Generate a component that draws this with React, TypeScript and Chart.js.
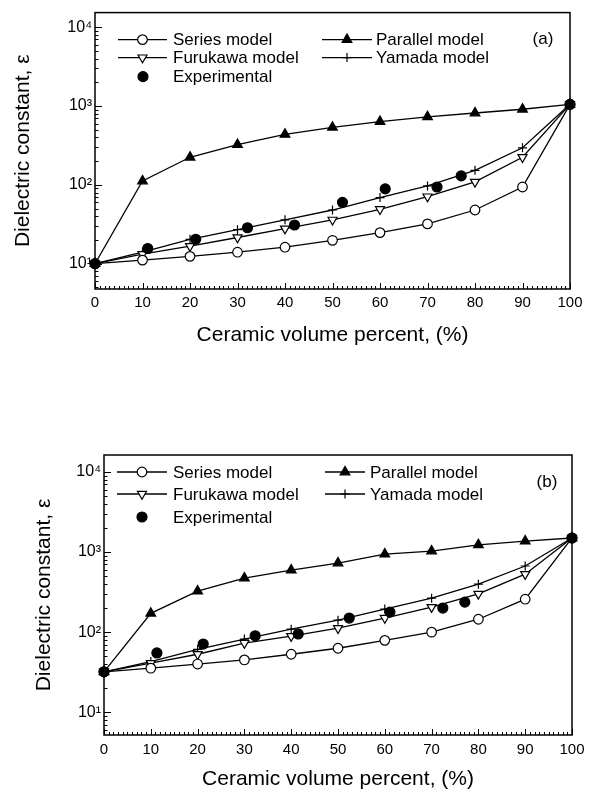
import React, { useEffect, useRef } from 'react';
import { Chart, registerables } from 'chart.js';

Chart.register(...registerables);

const FONT = '"Liberation Sans", Arial, Helvetica, sans-serif';

// ---------- data ----------
const modelX = [0, 10, 20, 30, 40, 50, 60, 70, 80, 90, 100];
const xTicks = [0, 10, 20, 30, 40, 50, 60, 70, 80, 90, 100];
const yTicks = [10, 100, 1000, 10000];
const yTickLabels = ['10¹', '10²', '10³', '10⁴'];
const legendLabels = ['Series model', 'Parallel model', 'Furukawa model', 'Yamada model', 'Experimental'];

// panel (a)
const seriesA = [10, 11.1, 12.4, 14, 16.2, 19.8, 24.8, 32, 48, 94, 1050];
const parallelA = [10, 112, 224, 324, 437, 537, 634, 730, 816, 910, 1050];
const furukawaA = [10, 13.2, 16.7, 21.5, 27.8, 36, 49, 71, 109, 224, 1050];
const yamadaA = [10, 14, 20.4, 27, 36, 48, 69, 97, 153, 295, 1050];
const expXA = [0, 11.1, 21.2, 32.1, 42, 52.1, 61.1, 72, 77.1, 100];
const expYA = [10, 15.6, 20.4, 28.6, 31, 60, 89, 94, 130, 1050];

// panel (b)
const seriesB = [32, 35.5, 40, 45, 53, 63, 79, 100, 145, 258, 1500];
const parallelB = [32, 172, 325, 473, 595, 730, 944, 1030, 1230, 1370, 1500];
const furukawaB = [32, 41, 53, 73, 89, 112, 150, 205, 300, 530, 1500];
const yamadaB = [32, 43, 61, 82, 109, 141, 194, 266, 398, 670, 1500];
const expXB = [0, 11.3, 21.2, 32.3, 41.5, 52.4, 61.1, 72.4, 77.1, 100];
const expYB = [32, 55, 71, 90, 95, 150, 178, 200, 237, 1500];

const pairs = (xs: number[], ys: number[]) => xs.map((x, i) => ({ x, y: ys[i] }));

function buildDatasets(s: number[], p: number[], f: number[], y: number[], ex: number[], ey: number[]) {
  const base = {
    borderColor: '#000',
    borderWidth: 1.3,
    pointBorderColor: '#000',
    pointBorderWidth: 1.2,
    tension: 0,
    clip: false as any,
    order: 1,
  };
  return [
    { ...base, label: legendLabels[0], data: pairs(modelX, s), pointStyle: 'circle', pointRadius: 4.8, pointBackgroundColor: '#fff', pointRotation: 0 },
    { ...base, label: legendLabels[1], data: pairs(modelX, p), pointStyle: 'triangle', pointRadius: 5.6, pointBackgroundColor: '#000', pointRotation: 0 },
    { ...base, label: legendLabels[2], data: pairs(modelX, f), pointStyle: 'triangle', pointRadius: 5.2, pointBackgroundColor: '#fff', pointRotation: 180 },
    { ...base, label: legendLabels[3], data: pairs(modelX, y), pointStyle: 'cross', pointRadius: 4.5, pointBackgroundColor: '#000', pointRotation: 0 },
    { ...base, label: legendLabels[4], data: pairs(ex, ey), showLine: false, pointStyle: 'circle', pointRadius: 5, pointBackgroundColor: '#000', pointRotation: 0, order: 0 },
  ];
}

function drawMarker(ctx: CanvasRenderingContext2D, style: string, rotation: number, r: number, x: number, y: number, fill: string, stroke: string, lw: number) {
  ctx.save();
  ctx.lineWidth = lw;
  ctx.strokeStyle = stroke;
  ctx.fillStyle = fill;
  ctx.beginPath();
  if (style === 'circle') {
    ctx.arc(x, y, r, 0, Math.PI * 2);
    ctx.fill();
    ctx.stroke();
  } else if (style === 'triangle') {
    let rad = (rotation * Math.PI) / 180;
    for (let i = 0; i < 3; i++) {
      const px = x + Math.sin(rad) * r;
      const py = y - Math.cos(rad) * r;
      if (i === 0) ctx.moveTo(px, py);
      else ctx.lineTo(px, py);
      rad += (2 * Math.PI) / 3;
    }
    ctx.closePath();
    ctx.fill();
    ctx.stroke();
  } else if (style === 'cross') {
    ctx.moveTo(x, y - r);
    ctx.lineTo(x, y + r);
    ctx.moveTo(x - r, y);
    ctx.lineTo(x + r, y);
    ctx.stroke();
  }
  ctx.restore();
}

const framePlugin = {
  id: 'frameTicks',
  beforeDatasetsDraw(chart: any) {
    const { ctx, chartArea: a, scales } = chart;
    const xs = scales.x;
    const ys = scales.y;
    ctx.save();
    ctx.strokeStyle = '#000';
    ctx.lineWidth = 1.5;
    ctx.strokeRect(a.left, a.top, a.right - a.left, a.bottom - a.top);
    ctx.lineWidth = 1;
    ctx.beginPath();
    // x ticks (inward)
    for (let v = xs.min; v <= xs.max; v += 1) {
      const px = Math.round(xs.getPixelForValue(v)) + 0.5;
      const len = v % 10 === 0 ? 6 : 3;
      ctx.moveTo(px, a.bottom);
      ctx.lineTo(px, a.bottom - len);
    }
    // y ticks (inward)
    const lo = Math.floor(Math.log10(ys.min));
    const hi = Math.ceil(Math.log10(ys.max));
    for (let e = lo; e <= hi; e++) {
      for (let k = 1; k <= 9; k++) {
        const v = k * Math.pow(10, e);
        if (v < ys.min || v > ys.max) continue;
        const py = Math.round(ys.getPixelForValue(v)) + 0.5;
        const len = k === 1 ? 7 : 3.5;
        ctx.moveTo(a.left, py);
        ctx.lineTo(a.left + len, py);
      }
    }
    ctx.stroke();
    ctx.restore();
  },
  afterDraw(chart: any, _args: any, opts: any) {
    const { ctx, chartArea: a } = chart;
    const items = opts.items || [];
    ctx.save();
    ctx.font = `17px ${FONT}`;
    ctx.fillStyle = '#000';
    ctx.textBaseline = 'middle';
    ctx.textAlign = 'left';
    items.forEach((it: any) => {
      const ds = chart.data.datasets.find((d: any) => d.label === it.label);
      if (!ds) return;
      const y = a.top + it.y;
      const x1 = a.left + it.x1;
      const x2 = a.left + it.x2;
      if (ds.showLine !== false) {
        ctx.strokeStyle = '#000';
        ctx.lineWidth = ds.borderWidth;
        ctx.beginPath();
        ctx.moveTo(x1, y);
        ctx.lineTo(x2, y);
        ctx.stroke();
      }
      drawMarker(ctx, ds.pointStyle, ds.pointRotation, ds.pointRadius, (x1 + x2) / 2, y, ds.pointBackgroundColor, ds.pointBorderColor, ds.pointBorderWidth);
      ctx.fillStyle = '#000';
      ctx.fillText(ds.label, a.left + it.tx, y + 1);
    });
    if (opts.panel) {
      ctx.font = `17px ${FONT}`;
      ctx.textAlign = 'center';
      ctx.fillText(opts.panel.text, a.left + opts.panel.x, a.top + opts.panel.y);
    }
    ctx.restore();
  },
};

type Spec = {
  height: number;
  padTop: number;
  padRight: number;
  yWidth: number;
  xHeight: number;
  yMin: number;
  yMax: number;
  yTitlePad: number;
  xTitlePad: number;
  xTickPad: number;
  datasets: any[];
  legend: any[];
  panel: any;
};

function Panel({ spec, top }: { spec: Spec; top: number }) {
  const ref = useRef<HTMLCanvasElement | null>(null);
  useEffect(() => {
    if (!ref.current) return;
    const chart = new Chart(ref.current, {
      type: 'line',
      data: { datasets: spec.datasets },
      plugins: [framePlugin],
      options: {
        animation: false,
        responsive: false,
        maintainAspectRatio: false,
        layout: { padding: { top: spec.padTop, right: spec.padRight, left: 0, bottom: 0 } },
        plugins: {
          legend: { display: false },
          tooltip: { enabled: false },
          frameTicks: { items: spec.legend, panel: spec.panel },
        } as any,
        scales: {
          x: {
            type: 'linear',
            min: 0,
            max: 100,
            afterFit: (s: any) => { s.height = spec.xHeight; },
            afterBuildTicks: (s: any) => { s.ticks = xTicks.map((v) => ({ value: v })); },
            grid: { display: false, drawTicks: false },
            border: { display: false },
            ticks: {
              autoSkip: false,
              maxRotation: 0,
              padding: spec.xTickPad,
              color: '#000',
              font: { family: FONT, size: 15 },
              callback: (v: any) => String(v),
            },
            title: {
              display: true,
              text: 'Ceramic volume percent, (%)',
              color: '#000',
              font: { family: FONT, size: 21 },
              padding: { top: 0, bottom: spec.xTitlePad },
            },
          },
          y: {
            type: 'logarithmic',
            min: spec.yMin,
            max: spec.yMax,
            afterFit: (s: any) => { s.width = spec.yWidth; },
            afterBuildTicks: (s: any) => { s.ticks = yTicks.map((v) => ({ value: v })); },
            grid: { display: false, drawTicks: false },
            border: { display: false },
            ticks: {
              autoSkip: false,
              padding: 3,
              color: '#000',
              font: { family: FONT, size: 16 },
              callback: (v: any) => {
                const i = yTicks.indexOf(Number(v));
                return i >= 0 ? yTickLabels[i] : '';
              },
            },
            title: {
              display: true,
              text: 'Dielectric constant, ε',
              color: '#000',
              font: { family: FONT, size: 21 },
              padding: { top: spec.yTitlePad, bottom: 0 },
            },
          },
        },
      } as any,
    });
    return () => chart.destroy();
  }, [spec]);
  return (
    <canvas
      ref={ref}
      width={593}
      height={spec.height}
      style={{ position: 'absolute', left: 0, top, width: 593, height: spec.height }}
    />
  );
}

const specA: Spec = {
  height: 350,
  padTop: 5,
  padRight: 23,
  yWidth: 95,
  xHeight: 61,
  yMin: 4.78,
  yMax: 15300,
  yTitlePad: 11,
  xTitlePad: 2,
  xTickPad: 5,
  datasets: buildDatasets(seriesA, parallelA, furukawaA, yamadaA, expXA, expYA),
  legend: [
    { label: legendLabels[0], x1: 23, x2: 72, tx: 78, y: 27 },
    { label: legendLabels[1], x1: 227, x2: 277, tx: 281, y: 27 },
    { label: legendLabels[2], x1: 23, x2: 72, tx: 78, y: 45 },
    { label: legendLabels[3], x1: 227, x2: 277, tx: 281, y: 45 },
    { label: legendLabels[4], x1: 48, x2: 48, tx: 78, y: 64 },
  ],
  panel: { text: '(a)', x: 448, y: 27 },
};

const specB: Spec = {
  height: 352,
  padTop: 15,
  padRight: 21,
  yWidth: 104,
  xHeight: 57,
  yMin: 5.2,
  yMax: 16300,
  yTitlePad: 32,
  xTitlePad: 0,
  xTickPad: 6,
  datasets: buildDatasets(seriesB, parallelB, furukawaB, yamadaB, expXB, expYB),
  legend: [
    { label: legendLabels[0], x1: 13, x2: 63, tx: 69, y: 17 },
    { label: legendLabels[1], x1: 221, x2: 261, tx: 266, y: 17 },
    { label: legendLabels[2], x1: 13, x2: 63, tx: 69, y: 39 },
    { label: legendLabels[3], x1: 221, x2: 261, tx: 266, y: 39 },
    { label: legendLabels[4], x1: 38, x2: 38, tx: 69, y: 62 },
  ],
  panel: { text: '(b)', x: 443, y: 27 },
};

export default function App() {
  return (
    <div style={{ position: 'fixed', left: 0, top: 0, width: 593, height: 792, background: '#fff', overflow: 'hidden' }}>
      <Panel spec={specA} top={0} />
      <Panel spec={specB} top={440} />
    </div>
  );
}
